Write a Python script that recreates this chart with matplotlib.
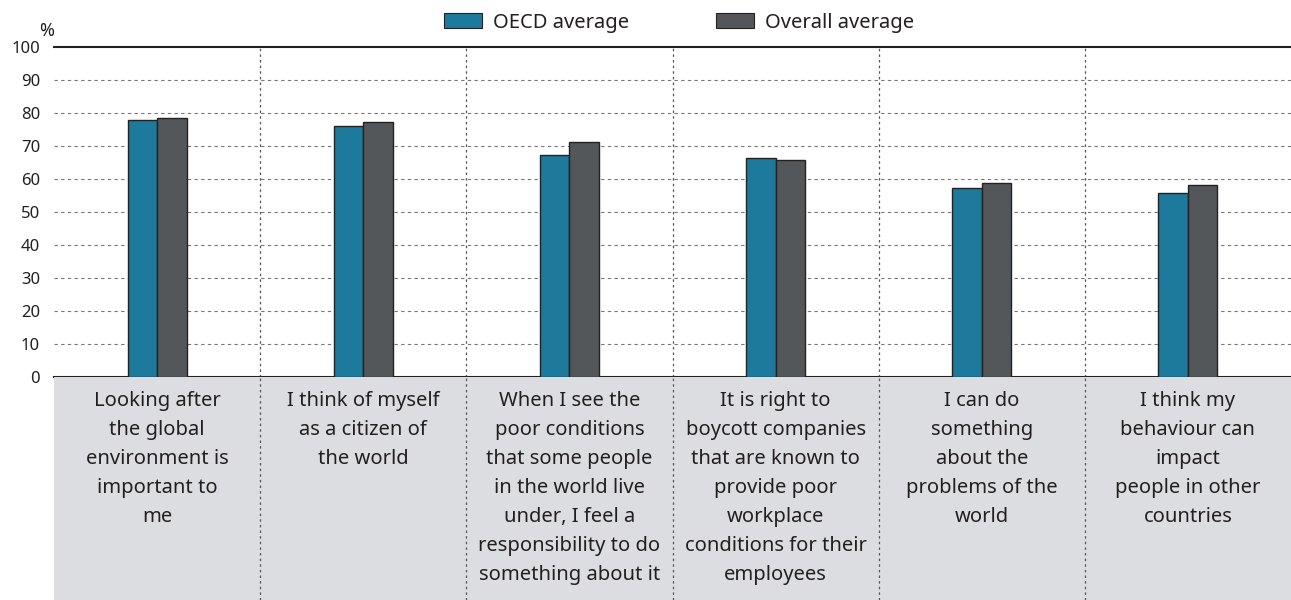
import matplotlib
matplotlib.use("Agg")
import matplotlib.pyplot as plt
from matplotlib.patches import Patch
import numpy as np

categories = [
    "Looking after\nthe global\nenvironment is\nimportant to\nme",
    "I think of myself\nas a citizen of\nthe world",
    "When I see the\npoor conditions\nthat some people\nin the world live\nunder, I feel a\nresponsibility to do\nsomething about it",
    "It is right to\nboycott companies\nthat are known to\nprovide poor\nworkplace\nconditions for their\nemployees",
    "I can do\nsomething\nabout the\nproblems of the\nworld",
    "I think my\nbehaviour can\nimpact\npeople in other\ncountries",
]
oecd_avg = [77.8, 76.2, 67.4, 66.4, 57.3, 55.9]
overall_avg = [78.6, 77.2, 71.3, 65.9, 58.9, 58.1]
series_names = ["OECD average", "Overall average"]
yticks = [0, 10, 20, 30, 40, 50, 60, 70, 80, 90, 100]

c_oecd = "#1e7a9c"
c_over = "#53575a"
txt = "#231f20"

plt.rcParams['font.family'] = ['Noto Sans', 'DejaVu Sans']

W, H = 1291, 600
fig = plt.figure(figsize=(W / 100, H / 100), dpi=100)
left = 54 / W
ax = fig.add_axes([left, (H - 377) / H, 1 - left, 330 / H])
axl = fig.add_axes([left, 0, 1 - left, (H - 377) / H], sharex=ax)

n = len(categories)
x = np.arange(n)
bw = 0.143
ax.bar(x - bw / 2, oecd_avg, bw, color=c_oecd, edgecolor="#222222", linewidth=1, zorder=3)
ax.bar(x + bw / 2, overall_avg, bw, color=c_over, edgecolor="#222222", linewidth=1, zorder=3)

ax.set_xlim(-0.5, n - 0.5)
ax.set_ylim(0, 100)
ax.set_yticks(yticks)
ax.set_yticklabels([str(t) for t in yticks], fontsize=12, color=txt)
ax.tick_params(axis="y", length=0, pad=10)
ax.tick_params(axis="x", length=0, labelbottom=False)
for yv in yticks[1:-1]:
    ax.axhline(yv, color="#777777", linestyle=(0, (3, 3)), linewidth=0.8, zorder=1)
for b in np.arange(0.5, n - 0.5, 1):
    ax.axvline(b, color="#555555", linestyle=(0, (2, 2.5)), linewidth=0.9, zorder=1)
    axl.axvline(b, color="#555555", linestyle=(0, (2, 2.5)), linewidth=0.9, zorder=1)
for s in ["left", "right"]:
    ax.spines[s].set_visible(False)
ax.spines["top"].set_color("#222222")
ax.spines["top"].set_linewidth(1.5)
ax.spines["bottom"].set_color("#222222")
ax.spines["bottom"].set_linewidth(1.5)
ax.text(0.0, 1.02, "%", transform=ax.transAxes, ha="right", va="bottom", fontsize=13, color=txt)

axl.set_facecolor("#dcdde0")
axl.set_ylim(0, 1)
axl.set_xticks([])
axl.set_yticks([])
for s in axl.spines.values():
    s.set_visible(False)
for i, c in enumerate(categories):
    axl.text(i, 0.935, c, ha="center", va="top", fontsize=14.5, color=txt, linespacing=1.6)

handles = [Patch(facecolor=c_oecd, edgecolor="#222222", linewidth=0.8),
           Patch(facecolor=c_over, edgecolor="#222222", linewidth=0.8)]
fig.legend(handles, series_names, loc="center", bbox_to_anchor=(0.526, 0.962), ncol=2,
           frameon=False, fontsize=14.5, handlelength=1.9, handleheight=0.75,
           columnspacing=4.3, handletextpad=0.55, labelcolor=txt)

fig.savefig("out.png", dpi=100)
